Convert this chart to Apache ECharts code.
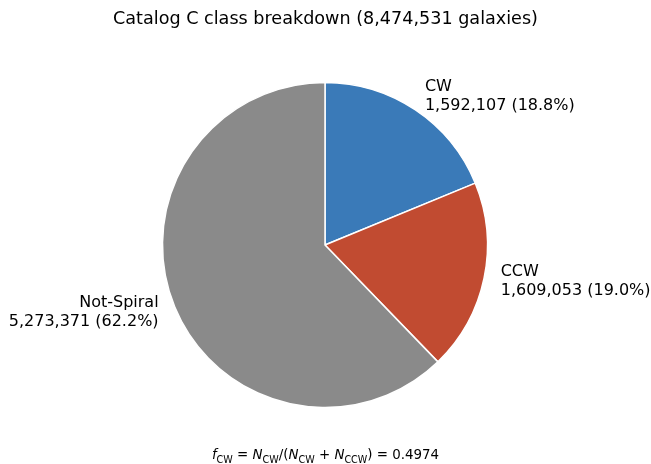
<!DOCTYPE html>
<html>
<head>
<meta charset="utf-8">
<script src="https://cdn.jsdelivr.net/npm/echarts@6/dist/echarts.min.js"></script>
<style>
  html, body { margin: 0; padding: 0; background: #ffffff; }
  #chart { width: 651px; height: 464px; }
</style>
</head>
<body>
<div id="chart"></div>
<script>
// ---- data ----
const categories = ['CW', 'CCW', 'Not-Spiral'];
const counts = [1592107, 1609053, 5273371];
const colors = ['#3a7ab8', '#c14b31', '#8a8a8a'];
const catalogName = 'Catalog C';

const total = counts.reduce((a, b) => a + b, 0);
const fmt = v => v.toLocaleString('en-US');
const fcw = counts[0] / (counts[0] + counts[1]);

const FONT = '"DejaVu Sans", sans-serif';

const chart = echarts.init(document.getElementById('chart'), null, { renderer: 'canvas' });

const option = {
  backgroundColor: '#ffffff',
  animation: false,
  title: {
    text: catalogName + ' class breakdown (' + fmt(total) + ' galaxies)',
    left: 'center',
    top: 5,
    textStyle: { fontFamily: FONT, fontSize: 17.6, fontWeight: 'normal', color: '#000000' }
  },
  graphic: [{
    type: 'text',
    left: 'center',
    top: 448,
    style: {
      text: '{i|f}{s|CW}{m| = }{i|N}{s|CW}{m|/(}{i|N}{s|CW}{m| + }{i|N}{s|CCW}{m|) = ' + fcw.toFixed(4) + '}',
      fontFamily: FONT,
      fill: '#000000',
      rich: {
        i: { fontFamily: FONT, fontStyle: 'italic', fontSize: 13.4, lineHeight: 18, fill: '#000' },
        m: { fontFamily: FONT, fontSize: 13.4, lineHeight: 18, fill: '#000' },
        s: { fontFamily: FONT, fontSize: 9.6, lineHeight: 12, padding: [7, 0, 0, 0], verticalAlign: 'bottom', fill: '#000' }
      }
    }
  }],
  series: [{
    type: 'pie',
    center: [325, 245],
    radius: [0, 162.5],
    startAngle: 90,
    clockwise: true,
    avoidLabelOverlap: false,
    itemStyle: { borderColor: '#ffffff', borderWidth: 1.5 },
    emphasis: { disabled: true },
    label: {
      show: true,
      position: 'outside',
      distanceToLabelLine: 0,
      fontFamily: FONT,
      fontSize: 16,
      lineHeight: 19,
      color: '#000000',
      formatter: p => p.name + '\n' + fmt(p.value) + ' (' + (p.value / total * 100).toFixed(1) + '%)'
    },
    labelLine: { show: false, length: 17, length2: 0 },
    data: categories.map((c, i) => ({ name: c, value: counts[i], itemStyle: { color: colors[i] } }))
  }]
};

chart.setOption(option);
</script>
</body>
</html>
